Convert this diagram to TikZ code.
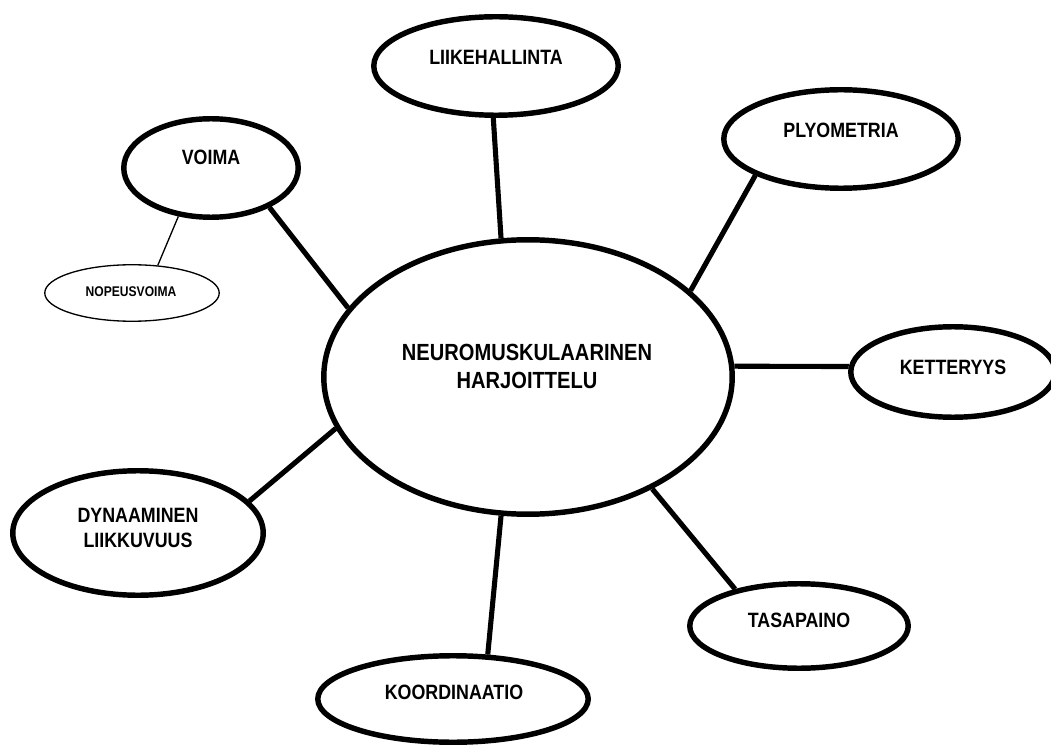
\documentclass[tikz,border=0pt]{standalone}
\usepackage{fontspec}
\setmainfont{Liberation Sans}[FakeStretch=0.86]
\usepackage{tikz}
\usetikzlibrary{shapes.geometric}

\begin{document}
\begin{tikzpicture}[x=0.02cm, y=-0.02cm,
    bubble/.style={ellipse, draw, line width=3.1pt, inner sep=0pt, fill=white},
    subbubble/.style={ellipse, draw, line width=0.75pt, inner sep=0pt, fill=white},
    lbl/.style={inner sep=0pt, font=\fontsize{11.8}{14.7}\selectfont\bfseries, align=center},
    sublbl/.style={inner sep=0pt, font=\fontsize{8}{9}\selectfont\bfseries},
    spoke/.style={line width=2.9pt},
    thinspoke/.style={line width=0.75pt}]
          \useasboundingbox (0,0) rectangle (1051,746);

          \node[bubble, minimum width=8.17cm, minimum height=5.49cm] (core) at (528,377) {};
          \node[bubble, minimum width=4.89cm, minimum height=1.97cm] (liike) at (496,66) {};
          \node[bubble, minimum width=4.69cm, minimum height=1.97cm] (plyo) at (841,139) {};
          \node[bubble, minimum width=3.49cm, minimum height=1.97cm] (voima) at (211,168) {};
          \node[subbubble, minimum width=3.49cm, minimum height=1.13cm] (nopeus) at (132,293) {};
          \node[bubble, minimum width=4.09cm, minimum height=1.81cm] (ketter) at (953,372) {};
          \node[bubble, minimum width=5.01cm, minimum height=2.49cm] (dyn) at (138,533) {};
          \node[bubble, minimum width=4.37cm, minimum height=1.69cm] (tasa) at (799,626) {};
          \node[bubble, minimum width=5.41cm, minimum height=1.73cm] (koord) at (453,699) {};

          \draw[spoke] (core.101) -- (liike.267);
          \draw[spoke] (core.28) -- (plyo.203);
          \draw[spoke] (core.3) -- (ketter.177);
          \draw[spoke] (core.-42) -- (tasa.150);
          \draw[spoke] (core.259) -- (koord.52);
          \draw[spoke] (core.195) -- (dyn.16);
          \draw[spoke] (core.159) -- (voima.326);
          \draw[thinspoke] (voima.236) -- (nopeus.47);

          \node[lbl, font=\fontsize{13.3}{15.9}\selectfont\bfseries] (core-t) at (527,366) {NEUROMUSKULAARINEN\\HARJOITTELU};
          \node[lbl] (liike-t) at (496,57) {LIIKEHALLINTA};
          \node[lbl] (plyo-t) at (841,130) {PLYOMETRIA};
          \node[lbl] (voima-t) at (211,157) {VOIMA};
          \node[sublbl] (nopeus-t) at (131,292) {NOPEUSVOIMA};
          \node[lbl] (ketter-t) at (953,367) {KETTERYYS};
          \node[lbl] (dyn-t) at (138,528) {DYNAAMINEN\\LIIKKUVUUS};
          \node[lbl] (tasa-t) at (799,620) {TASAPAINO};
          \node[lbl] (koord-t) at (454,692) {KOORDINAATIO};
\end{tikzpicture}
\end{document}
